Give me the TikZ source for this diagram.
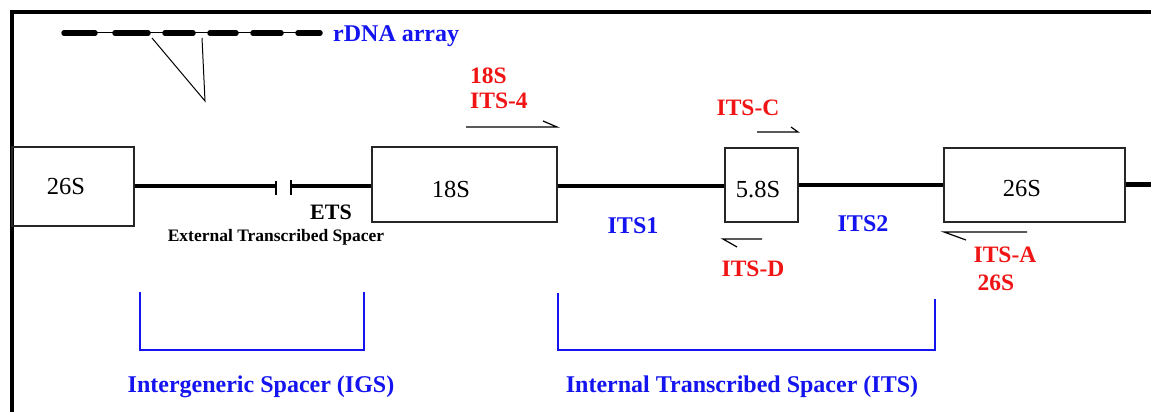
\documentclass[tikz,border=0pt]{standalone}
\usepackage{fontspec}
\setmainfont{Liberation Serif}
\definecolor{lblue}{RGB}{20,20,240}
\definecolor{lred}{RGB}{240,20,20}
\begin{document}
\begin{tikzpicture}[x=1pt,y=-1pt,
  gbox/.style={draw=black!85,line width=1.3pt,inner sep=0pt},
  boxtxt/.style={font=\fontsize{24.5}{26}\selectfont,inner sep=0pt},
  redtxt/.style={text=lred,font=\bfseries\fontsize{23.5}{25}\selectfont,inner sep=0pt},
  bluetxt/.style={text=lblue,font=\bfseries\fontsize{24}{26}\selectfont,inner sep=0pt},
  blacktxt/.style={text=black,font=\bfseries\fontsize{22}{24}\selectfont,inner sep=0pt},
  dna/.style={line width=4.5pt},
  thin/.style={line width=1pt},
  primer/.style={line width=1.2pt},
  brk/.style={line width=1.3pt},
  brack/.style={draw=lblue,line width=1.3pt}]
\useasboundingbox (0,0) rectangle (1151,412);
\fill[white] (0,0) rectangle (1151,412);
% frame
\draw[line width=4pt] (12,412) -- (12,12.5) -- (1151,12.5);
% rDNA array
\coordinate (r0) at (62,33);
\coordinate (r1) at (322,33);
\draw[thin] (r0) -- (r1);
\foreach \a/\b in {62/97,113/150,163/195,208/238,251/283,296/322}
  \draw[line width=5.5pt,line cap=round] (\a+2,33) -- (\b-2,33);
\coordinate (t1) at (152,38);
\coordinate (t2) at (202,38);
\coordinate (t3) at (205,101);
\draw[thin] (t1) -- (t3) -- (t2);
\node[bluetxt,anchor=west] (rdna) at (333,36) {rDNA array};
% boxes
\node[gbox,minimum width=122pt,minimum height=79pt] (b26a) at (73,186.5) {};
\node[boxtxt] (l26a) at (66,187) {26S};
\node[gbox,minimum width=185pt,minimum height=75pt] (b18) at (464.5,184.5) {};
\node[boxtxt] (l18) at (451,189) {18S};
\node[gbox,minimum width=73pt,minimum height=74pt] (b58) at (761.5,185) {};
\node[boxtxt] (l58) at (758,190) {5.8S};
\node[gbox,minimum width=181pt,minimum height=74pt] (b26b) at (1034.5,185) {};
\node[boxtxt] (l26b) at (1022,189) {26S};
% main line
\coordinate (e1) at (276,186);
\coordinate (e2) at (291,186);
\coordinate (rend) at (1151,184.5);
\draw[dna] (b26a.east |- e1) -- (e1);
\draw[dna] (e2) -- (b18.west |- e2);
\draw[brk] (276,181) -- (276,195);
\draw[brk] (291,180) -- (291,195);
\draw[dna] (b18.east |- 0,186) -- (b58.west |- 0,186);
\draw[dna] (b58.east |- 0,185) -- (b26b.west |- 0,185);
\draw[dna] (b26b.east |- rend) -- (rend);
% labels
\node[blacktxt] (ets) at (331,212) {ETS};
\node[blacktxt,font=\bfseries\fontsize{17.5}{19}\selectfont] (etsl) at (276,237) {External Transcribed Spacer};
\node[bluetxt] (its1) at (633,226) {ITS1};
\node[bluetxt] (its2) at (863,224) {ITS2};
% primers
\node[redtxt,anchor=west] (p18) at (470,76) {18S};
\node[redtxt,anchor=west] (pits4) at (470,101) {ITS-4};
\coordinate (a4s) at (466,127);
\coordinate (a4e) at (557,127);
\draw[primer] (a4s) -- (a4e) -- ++(-14,-6);
\node[redtxt] (pitsc) at (748,108) {ITS-C};
\coordinate (acs) at (757,132);
\coordinate (ace) at (798,132);
\draw[primer] (acs) -- (ace) -- ++(-7,-5);
\node[redtxt] (pitsd) at (753,269) {ITS-D};
\coordinate (ads) at (762,239);
\coordinate (ade) at (723,239);
\draw[primer] (ads) -- (ade) -- ++(14,8);
\node[redtxt] (pitsa) at (1005,255) {ITS-A};
\node[redtxt] (p26) at (996,283) {26S};
\coordinate (aas) at (1027,232);
\coordinate (aae) at (944,232);
\draw[primer] (aas) -- (aae) -- ++(22,8);
% brackets
\coordinate (g1) at (140,292);
\coordinate (g2) at (364,292);
\draw[brack] (g1) -- (140,350) -- (364,350) -- (g2);
\coordinate (i1) at (558,293);
\coordinate (i2) at (935,299);
\draw[brack] (i1) -- (558,350) -- (935,350) -- (i2);
\node[bluetxt] (igs) at (261,387) {Intergeneric Spacer (IGS)};
\node[bluetxt] (its) at (742,387) {Internal Transcribed Spacer (ITS)};
\end{tikzpicture}
\end{document}
